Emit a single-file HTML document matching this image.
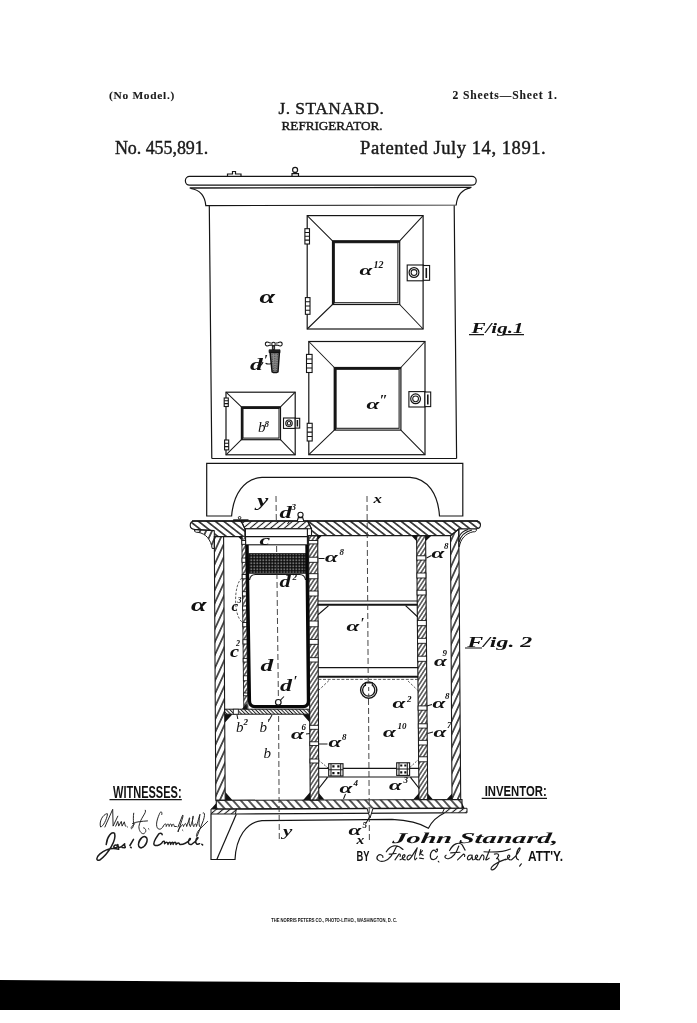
<!DOCTYPE html>
<html>
<head>
<meta charset="utf-8">
<title>J. Stanard Refrigerator Patent No. 455,891</title>
<style>
html,body{margin:0;padding:0;background:#fff;}
body{width:697px;height:1023px;overflow:hidden;position:relative;font-family:"Liberation Serif",serif;}
svg{position:absolute;left:0;top:0;display:block;will-change:transform;}
.ln{fill:none;stroke:#151515;stroke-width:1.2;}
.lt{fill:none;stroke:#1a1a1a;stroke-width:1.05;}
.lk{fill:none;stroke:#111;stroke-width:1.4;}
.bk{fill:#111;stroke:none;}
.wh{fill:#fff;stroke:#151515;stroke-width:1.1;}
.ds{fill:none;stroke:#333;stroke-width:0.9;stroke-dasharray:5 3;}
.hd{font-family:"Liberation Serif",serif;fill:#1a1a1a;}
.sn{font-family:"Liberation Sans",sans-serif;fill:#111;font-weight:bold;}
.lb{font-family:"Liberation Serif",serif;font-style:italic;font-weight:bold;fill:#111;}
.sg{font-family:"Liberation Serif",serif;font-style:italic;fill:#222;}
</style>
</head>
<body>
<svg width="697" height="1023" viewBox="0 0 697 1023">
<defs>
<pattern id="hS" width="5.2" height="8" patternUnits="userSpaceOnUse" patternTransform="rotate(-52)">
<line x1="2.6" y1="0" x2="2.6" y2="8" stroke="#151515" stroke-width="1.45"/></pattern>
<pattern id="hSr" width="4.4" height="8" patternUnits="userSpaceOnUse" patternTransform="rotate(50)">
<line x1="2.2" y1="0" x2="2.2" y2="8" stroke="#1a1a1a" stroke-width="1.1"/></pattern>
<pattern id="hB" width="5.8" height="8" patternUnits="userSpaceOnUse" patternTransform="rotate(-42)">
<line x1="2.9" y1="0" x2="2.9" y2="8" stroke="#1a1a1a" stroke-width="1.45"/></pattern>
<pattern id="hW" width="5.4" height="8" patternUnits="userSpaceOnUse" patternTransform="rotate(24.5)">
<line x1="2.7" y1="0" x2="2.7" y2="8" stroke="#1a1a1a" stroke-width="1.45"/></pattern>
<pattern id="hI" width="3.3" height="8" patternUnits="userSpaceOnUse" patternTransform="rotate(33)">
<line x1="1.65" y1="0" x2="1.65" y2="8" stroke="#1a1a1a" stroke-width="1.15"/></pattern>
<pattern id="hF" width="2.6" height="8" patternUnits="userSpaceOnUse" patternTransform="rotate(-45)">
<line x1="1.3" y1="0" x2="1.3" y2="8" stroke="#1a1a1a" stroke-width="1"/></pattern>
<pattern id="hG" width="1.5" height="1.5" patternUnits="userSpaceOnUse">
<path d="M0 0.45 H1.5 M0.45 0 V1.5" stroke="#0c0c0c" stroke-width="0.9"/></pattern>
</defs>

<!-- HEADER -->
<g id="header" stroke="#1a1a1a" stroke-width="0.42">
<text class="hd" x="109" y="98.6" font-size="11.4" font-weight="bold" stroke-width="0.1" textLength="65.3" lengthAdjust="spacing">(No Model.)</text>
<text class="hd" x="452.6" y="99.1" font-size="11.6" font-weight="bold" stroke-width="0.1" textLength="104.2" lengthAdjust="spacing">2 Sheets—Sheet 1.</text>
<text class="hd" x="278.4" y="113.8" font-size="17.4" textLength="105.4" lengthAdjust="spacing">J. STANARD.</text>
<text class="hd" x="281.6" y="129.9" font-size="13.2" textLength="100.9" lengthAdjust="spacing">REFRIGERATOR.</text>
<text class="hd" x="114.9" y="154.4" font-size="18" textLength="93.3" lengthAdjust="spacing">No. 455,891.</text>
<text class="hd" x="360.1" y="154.2" font-size="18.6" textLength="185.6" lengthAdjust="spacing">Patented July 14, 1891.</text>
</g>

<!-- FIG1 -->
<g id="fig1">
<!-- cornice -->
<rect class="ln" x="185.4" y="176.4" width="290.8" height="8.8" rx="4.2" ry="4.2" style="stroke-width:1.2"/>
<path class="ln" d="M189.7 188 L471.5 187.4" style="stroke-width:1.3"/>
<path class="ln" d="M190.8 188.5 C200 190 205 196 205.8 205.6 L456.2 205 C457 196 462 189 470.5 187.8" style="stroke-width:1.2"/>
<!-- top knob and latch -->
<circle class="ln" cx="295.1" cy="169.9" r="2.5"/>
<path class="ln" d="M292 176 V173.6 H298.5 V176"/>
<path class="ln" d="M227.5 176.3 V174 H232.5 V171.5 H235.5 V174 H241 V176.3"/>
<!-- body -->
<path class="ln" d="M209.3 206 L211.8 458.5 M454.2 205.5 L456.6 458.5"/>
<path class="ln" d="M211.8 458.5 H456.6"/>
<!-- base -->
<path class="ln" d="M206.7 463.3 H462.8 V516 H439.5 C438 494 428 478.5 410 477.3 H262 C244 478.5 233.5 494 231.6 516 H206.7 Z"/>
<!-- door a12 -->
<rect class="ln" x="307.2" y="215.6" width="115.9" height="113.4"/>
<rect class="ln" x="332.5" y="240.9" width="67.2" height="63.6"/>
<rect class="lt" x="334.3" y="242.7" width="63.6" height="60"/><path class="ln" d="M333.2 304.5 V241.6 H399.7" style="stroke-width:2.2"/>
<path class="lt" d="M307.2 215.6 L332.5 240.9 M423.1 215.6 L399.7 240.9 M307.2 329 L332.5 304.5 M423.1 329 L399.7 304.5"/>
<!-- hinges a12 -->
<g class="wh">
<rect x="304.9" y="228.7" width="4.6" height="15.3"/><path d="M304.9 232.5 h4.6 M304.9 236.3 h4.6 M304.9 240.1 h4.6"/>
<rect x="305.4" y="297.6" width="4.6" height="16.7"/><path d="M305.4 301.8 h4.6 M305.4 306 h4.6 M305.4 310.2 h4.6"/>
</g>
<!-- latch a12 -->
<rect class="wh" x="407.2" y="265" width="16" height="15.8"/>
<rect class="wh" x="423.2" y="265.5" width="6.4" height="14.8"/>
<path class="ln" d="M426.3 268 V278" style="stroke-width:1.6"/>
<circle class="ln" cx="414" cy="272.5" r="4.9"/><circle class="lt" cx="414" cy="272.5" r="2.9"/>
<!-- door a11 -->
<rect class="ln" x="308.8" y="341.5" width="116.2" height="113.2"/>
<rect class="ln" x="334.3" y="367.5" width="66.6" height="62.6"/>
<rect class="lt" x="336.1" y="369.3" width="63" height="59"/><path class="ln" d="M335 430.1 V368.2 H400.9" style="stroke-width:2.2"/>
<path class="lt" d="M308.8 341.5 L334.3 367.5 M425 341.5 L400.9 367.5 M308.8 454.7 L334.3 430.1 M425 454.7 L400.9 430.1"/>
<g class="wh">
<rect x="306.5" y="354.4" width="5.6" height="18.1"/><path d="M306.5 359 h5.6 M306.5 363.5 h5.6 M306.5 368 h5.6"/>
<rect x="307.2" y="423.3" width="5" height="17.7"/><path d="M307.2 427.7 h5 M307.2 432.1 h5 M307.2 436.5 h5"/>
</g>
<rect class="wh" x="408.9" y="391.6" width="16" height="15.4"/>
<rect class="wh" x="424.9" y="392" width="5.8" height="14.6"/>
<path class="ln" d="M427.8 394.5 V404.5" style="stroke-width:1.6"/>
<circle class="ln" cx="415.6" cy="398.8" r="4.9"/><circle class="lt" cx="415.6" cy="398.8" r="2.9"/>
<!-- small door b8 -->
<rect class="ln" x="226" y="392.2" width="69.2" height="62.6"/>
<rect class="ln" x="241.4" y="406.9" width="39.1" height="32.8"/>
<rect class="lt" x="243" y="408.5" width="36" height="29.6"/><path class="ln" d="M242 439.7 V407.5 H280.5" style="stroke-width:1.9"/>
<path class="lt" d="M226 392.2 L241.4 406.9 M295.2 392.2 L280.5 406.9 M226 454.8 L241.4 439.7 M295.2 454.8 L280.5 439.7"/>
<g class="wh">
<rect x="224.2" y="398" width="4.1" height="8.5"/><path d="M224.2 400.8 h4.1 M224.2 403.6 h4.1"/>
<rect x="224.6" y="440" width="4.1" height="9.9"/><path d="M224.6 443.3 h4.1 M224.6 446.6 h4.1"/>
</g>
<rect class="wh" x="283.5" y="418" width="11.7" height="10.4"/>
<rect class="wh" x="295.2" y="418.3" width="4.5" height="9.8"/>
<path class="ln" d="M297.4 420 V426.5" style="stroke-width:1.5"/>
<circle class="ln" cx="289" cy="423.2" r="3.2"/><circle class="lt" cx="289" cy="423.2" r="1.7"/>
<!-- faucet -->
<path class="wh" d="M265.3 344 C265.3 341.8 267.5 341.6 269.5 342.8 L272 343.2 C272.8 342 274.2 342 275 343.2 L278 342.8 C280 341.6 282.2 341.8 282.2 344 C282.2 346.2 280 346.4 278 345.2 L275 344.9 C274.2 346 272.8 346 272 344.9 L269.5 345.2 C267.5 346.4 265.3 346.2 265.3 344 Z" style="stroke-width:1.1"/>
<path d="M272.4 346 H274.6 V349.6 H272.4 Z" fill="#777" stroke="#111" stroke-width="0.9"/>
<path d="M269.1 349.8 H280 V352.6 H269.1 Z" fill="#222" stroke="#111" stroke-width="0.8"/>
<path d="M270.1 352.6 H279.4 L278 371.8 Q275 373.4 272.1 371.8 Z" fill="#8a8a8a" stroke="#111" stroke-width="1.5"/>
<path d="M272 354 L273.5 371 M274.8 353.5 L275 371.5 M277.4 354 L276.6 371" stroke="#333" stroke-width="0.8" stroke-dasharray="1.2 1.1" fill="none"/>
<path class="lt" d="M265.6 363.2 C267.5 364.4 269.5 364.2 271.2 363.4"/>
</g>
<!-- FIG2 -->
<g id="fig2">
<!-- top slab -->
<path d="M190.2 525.2 Q190.2 521 194.5 521 H241.2 L244.9 528.8 V536.6 H214.3 V530.6 L194.5 529.4 Q190.2 529 190.2 525.2 Z" fill="url(#hS)" stroke="none"/><path class="ln" d="M214.3 530.6 L194.5 529.4 Q190.2 529 190.2 525.2 Q190.2 521 194.5 521 H241.2 L244.9 528.8 V536.6 H223.6" style="stroke-width:1.1"/>
<path d="M241.2 521 H307.6 L311.5 528.8 H244.9 Z" fill="url(#hSr)" stroke="#1a1a1a" stroke-width="1.1"/>
<path d="M307.6 521 H476 Q480.5 521 480.5 524.7 Q480.5 528.6 476 528.8 L458.8 529 L450.6 535.6 H311.5 V528.8 Z" fill="url(#hS)" stroke="#1a1a1a" stroke-width="1.1"/>
<path class="ln" d="M192 521 H478" style="stroke-width:1.3"/>
<!-- coves -->
<path d="M194.5 529.6 C194 532 196 532.5 198 532.3 C206 533.5 211 540 212.2 548.5 H214.3 V530.6 Z" fill="url(#hW)" stroke="#1a1a1a" stroke-width="1"/>
<path d="M476.3 529 C477 531.5 475 532 473 531.8 C465.5 533.5 460.5 539 459.3 546.8 H458.8 V529 Z" fill="#fff" stroke="#1a1a1a" stroke-width="1"/>
<path class="lt" d="M472 530 C464 532 460.5 536 459.2 542 M468 529.5 C463 531 460.5 533 459 537"/>
<!-- outer walls -->
<path d="M214.3 536.6 H223.6 L225.2 800.3 H215.8 Z" fill="url(#hW)" stroke="#1a1a1a" stroke-width="1.1"/>
<path d="M450.5 535.6 L458.8 529 L460.7 799.5 H452 Z" fill="url(#hW)" stroke="#1a1a1a" stroke-width="1.1"/>
<!-- box c under lid -->
<rect class="wh" x="245.4" y="528.8" width="62" height="16"/>
<path class="ln" d="M245.4 536.7 H307.4"/>
<!-- thin wall ice chamber -->
<path d="M241.8 536.6 H245.6 L247.9 709 H243.8 Z" fill="url(#hI)" stroke="#1a1a1a" stroke-width="0.9"/>
<circle class="wh" cx="243.5" cy="537.8" r="1.3" style="stroke-width:0.8"/>
<!-- divider wall -->
<path d="M308.6 535.6 H317.7 L318.8 800.3 H310.2 Z" fill="url(#hI)" stroke="#1a1a1a" stroke-width="1.1"/>
<!-- inner right wall -->
<path d="M416.6 535.6 H425.6 L427.7 799.5 H419 Z" fill="url(#hI)" stroke="#1a1a1a" stroke-width="1.1"/>
<!-- GAPS -->
<g id="gaps" class="wh" style="stroke-width:0.9">
<rect x="241.8" y="540.5" width="3.8" height="3.8"/><rect x="242.0" y="558.0" width="3.8" height="4.3"/><rect x="242.2" y="574.5" width="3.9" height="4.3"/><rect x="242.4" y="591.7" width="3.9" height="4.3"/><rect x="242.6" y="606.0" width="3.9" height="4.0"/><rect x="242.8" y="622.5" width="3.9" height="4.3"/><rect x="243.0" y="639.7" width="4.0" height="4.3"/><rect x="243.2" y="658.4" width="4.0" height="3.6"/><rect x="243.4" y="675.8" width="4.0" height="5.0"/><rect x="243.6" y="693.0" width="4.1" height="2.8"/><rect x="308.6" y="540.5" width="9.1" height="3.4"/><rect x="308.7" y="557.2" width="9.1" height="5.1"/><rect x="308.8" y="573.7" width="9.0" height="5.1"/><rect x="308.9" y="591.0" width="9.0" height="5.0"/><rect x="309.1" y="621.0" width="8.9" height="5.8"/><rect x="309.2" y="639.4" width="8.9" height="4.9"/><rect x="309.3" y="657.7" width="8.9" height="4.3"/><rect x="309.7" y="725.3" width="8.7" height="4.0"/><rect x="309.8" y="741.8" width="8.7" height="3.8"/><rect x="310.0" y="759.0" width="8.7" height="4.0"/><rect x="416.8" y="555.8" width="9.0" height="4.3"/><rect x="416.9" y="573.0" width="9.0" height="5.0"/><rect x="417.1" y="590.2" width="8.9" height="4.8"/><rect x="417.4" y="620.4" width="8.9" height="5.3"/><rect x="417.5" y="638.3" width="8.9" height="5.0"/><rect x="417.7" y="656.2" width="8.9" height="5.1"/><rect x="418.1" y="705.9" width="8.8" height="4.3"/><rect x="418.3" y="723.8" width="8.8" height="4.3"/><rect x="418.5" y="740.3" width="8.8" height="4.7"/><rect x="418.6" y="756.8" width="8.7" height="5.0"/>
</g>
<!-- grid d2 -->
<rect x="248.9" y="553.7" width="57" height="19.5" fill="url(#hG)" stroke="#111" stroke-width="1"/>
<path class="ln" d="M249.5 580 C250 576.5 252 574.6 255.5 574.5 H299.5 C303 574.6 305 576.5 305.6 580"/>
<!-- tank d -->
<path d="M247.1 545 L249.5 701 Q249.6 706.7 255 706.7 H303 Q308.4 706.7 308.4 701 L306.9 545" fill="none" stroke="#080808" stroke-width="3.2"/>
<circle class="wh" cx="278.3" cy="702.3" r="2.8" style="stroke-width:1.2"/>
<path class="lt" d="M280.5 700.2 L284 696.5"/>
<!-- ice chamber floor -->
<rect x="224.6" y="709.2" width="84.6" height="5" fill="url(#hF)" stroke="#1a1a1a" stroke-width="1"/>
<rect class="wh" x="233.3" y="709.2" width="5" height="5" style="stroke-width:0.8"/>
<path class="bk" d="M246.8 703 L242 709 H247 Z"/>
<!-- fillets -->
<path class="bk" d="M225 714.2 H232.5 L225 722.5 Z M309.8 714.2 H302.5 L309.8 722.5 Z M225.3 800.3 H232.5 L225.3 792 Z M310.2 800.3 H303 L310.2 792 Z M318.8 799.8 H324.5 L318.8 793 Z M419 799.5 H413.2 L419 793 Z M427.7 799.5 H433 L427.7 793.5 Z M452 799.5 H446.5 L452 793.5 Z M416.6 535.6 H411.3 L416.6 541.2 Z M425.6 535.6 H431.6 L425.6 541.2 Z M317.7 535.6 H322 L317.7 540 Z M241.8 536.6 H238 L241.8 540.5 Z"/>
<!-- shelves -->
<path class="ln" d="M317.9 601 H417.5" style="stroke-width:1"/>
<path class="ln" d="M317.9 604.8 H417.6" style="stroke-width:1.9"/>
<path class="ln" d="M318 614.8 L328.6 605.6 M417.8 617 L405.6 605.6"/>
<path class="ln" d="M318.3 667.6 H418.2"/>
<path class="ln" d="M318.3 676.8 H418.3" style="stroke-width:2"/>
<path class="ds" d="M318.4 679.4 H418.3" style="stroke-dasharray:3 1.6;stroke-width:0.8"/>
<path class="ds" d="M318.4 690.5 L329.5 680 M418.4 691 L407 680" style="stroke-dasharray:2.4 1.6;stroke-width:0.8"/>
<!-- ring handle -->
<circle class="wh" cx="368.7" cy="690.1" r="8.1" style="stroke-width:1.4"/>
<circle class="wh" cx="368.7" cy="690.1" r="6.1" style="stroke-width:1.3"/>
<path class="wh" d="M365.5 686 V682.9 H372.3 V686" style="stroke-width:1.1"/>
<path class="ds" d="M368.7 687 V696" style="stroke-dasharray:4 2.5"/>
<!-- lower shelf + hinges -->
<path class="ln" d="M318.7 768.3 H419 M318.7 777 H419 M318.8 788.5 L327.5 777.3 M419.2 788.5 L410.5 777.3"/>
<path class="ds" d="M318.7 760.3 L328.7 768.5 M419 759 L409.8 767.5" style="stroke-dasharray:2 1.4;stroke-width:0.8"/>
<g class="wh" style="stroke-width:1.1">
<rect x="328.7" y="763.7" width="14.3" height="12.3"/><rect x="396.7" y="762.8" width="12.9" height="12.6"/>
</g>
<path class="lt" d="M328.7 769.8 H343 M331 763.7 V776 M340.7 763.7 V776 M396.7 769 H409.6 M399 762.8 V775.4 M407.3 762.8 V775.4"/>
<path class="bk" d="M332.3 765.3 h2.2 v2.2 h-2.2 Z M337.3 765.3 h2.2 v2.2 h-2.2 Z M332.3 772 h2.2 v2.2 h-2.2 Z M337.3 772 h2.2 v2.2 h-2.2 Z M400.2 764.5 h2.1 v2.1 h-2.1 Z M404.3 764.5 h2.1 v2.1 h-2.1 Z M400.2 771.3 h2.1 v2.1 h-2.1 Z M404.3 771.3 h2.1 v2.1 h-2.1 Z"/>
<!-- bottom slab -->
<path d="M216.3 800.3 L462 799.5 V808 L216.3 809 Z" fill="url(#hB)" stroke="#1a1a1a" stroke-width="1.1"/>
<path class="bk" d="M216.3 803 L211 809 H216.3 Z M462 803 L464.5 808 H462 Z"/>
<!-- sub slab -->
<path d="M211 809 H236.4 L235.4 814 H211 Z" fill="url(#hSr)" stroke="#1a1a1a" stroke-width="1"/>
<path d="M444.5 808.3 H467 V812.8 H442.4 Z" fill="url(#hSr)" stroke="#1a1a1a" stroke-width="1"/>
<path class="ln" d="M236 809 L444.5 808.3 M235.4 814 L442.4 812.8"/>
<!-- leg + arch -->
<path class="ln" d="M211 814 V859.5 H235 C236 838 246 822 262 820.6 L392 819.3 C408 820 420 823 428.4 828.2 C432 821 438 816 444.4 813"/>
<path class="ln" d="M236.3 814.2 L216.8 859.5"/>
<!-- drain a5 -->
<path class="wh" d="M367 808.3 L370 818 L373 808.3" style="stroke-width:1"/>
<path class="lt" d="M369.5 817 L365.5 824"/>
<!-- dashed center lines -->
<path class="ds" d="M276 496 L276.3 520 M276.6 546 L278.4 699" style="stroke-dasharray:6 3"/>
<path class="ds" d="M278.6 716 L279.3 840" style="stroke-dasharray:6 3"/>
<path class="ds" d="M367 496 L368.2 681 M368.5 699 L369.4 840.6" style="stroke-dasharray:6 3"/>
<!-- lid knob and latch -->
<circle class="wh" cx="300.5" cy="514.8" r="2.6"/>
<path class="wh" d="M297.3 521 L298.3 517.6 H302.7 L303.7 521"/>
<path class="ln" d="M233.2 520.2 H248.5" style="stroke-width:1.8"/>
<circle class="wh" cx="239.6" cy="517.8" r="1.3" style="stroke-width:0.9"/>
</g>
<g id="labels">
<text class="lb" transform="translate(359.5 274.6) scale(1.50 1)" font-size="15.5">α</text>
<text class="lb" x="373.5" y="267.5" font-size="10" >12</text>
<text class="lb" transform="translate(259.5 302.8) scale(1.55 1)" font-size="18">α</text>
<text class="lb" transform="translate(250.0 369.7) scale(1.50 1)" font-size="17">d</text>
<text class="lb" x="264.0" y="365.0" font-size="14" >′</text>
<text class="lb" transform="translate(258.0 432.3) scale(1.00 1)" font-size="15" style="font-weight:normal">b</text>
<text class="lb" x="264.5" y="426.5" font-size="9" >8</text>
<text class="lb" transform="translate(366.5 408.8) scale(1.50 1)" font-size="15.5">α</text>
<text class="lb" x="379.5" y="405.0" font-size="15" >″</text>
<text class="lb" transform="translate(257.0 505.5) scale(1.50 1)" font-size="17">y</text>
<text class="lb" transform="translate(373.5 503.3) scale(1.30 1)" font-size="13">x</text>
<text class="lb" transform="translate(279.5 518.0) scale(1.45 1)" font-size="17">d</text>
<text class="lb" x="291.5" y="509.5" font-size="9" >3</text>
<text class="lb" x="471.5" y="333.4" font-size="14" textLength="52" lengthAdjust="spacingAndGlyphs">F/ig.1</text>
<path class="lt" d="M469 334.6 H484 M503 334.6 H524"/>
<text class="lb" x="467.3" y="646.7" font-size="14.5" textLength="65" lengthAdjust="spacingAndGlyphs">F/ig. 2</text>
<path class="lt" d="M465 648 H482"/>
<text class="lb" transform="translate(325.0 561.8) scale(1.50 1)" font-size="15.5">α</text>
<text class="lb" x="339.5" y="555.0" font-size="9" >8</text>
<text class="lb" transform="translate(431.5 558.2) scale(1.50 1)" font-size="15.5">α</text>
<text class="lb" x="444.0" y="549.0" font-size="9" >8</text>
<text class="lb" transform="translate(191.0 610.7) scale(1.55 1)" font-size="18">α</text>
<text class="lb" transform="translate(259.5 544.6) scale(1.60 1)" font-size="15">c</text>
<text class="lb" transform="translate(279.5 586.8) scale(1.40 1)" font-size="16">d</text>
<text class="lb" x="292.5" y="580.0" font-size="9" >2</text>
<text class="lb" transform="translate(231.5 611.0) scale(1.00 1)" font-size="15">c</text>
<text class="lb" x="237.5" y="603.0" font-size="8" >3</text>
<text class="lb" transform="translate(230.0 657.0) scale(1.20 1)" font-size="17">c</text>
<text class="lb" x="236.0" y="646.0" font-size="8" >2</text>
<text class="lb" transform="translate(260.5 671.2) scale(1.50 1)" font-size="17">d</text>
<text class="lb" transform="translate(280.0 690.5) scale(1.50 1)" font-size="16">d</text>
<text class="lb" x="293.5" y="686.0" font-size="14" >′</text>
<text class="lb" transform="translate(346.5 631.3) scale(1.50 1)" font-size="15.5">α</text>
<text class="lb" x="360.5" y="628.0" font-size="14" >′</text>
<text class="lb" transform="translate(434.0 665.8) scale(1.50 1)" font-size="15.5">α</text>
<text class="lb" x="442.5" y="655.5" font-size="9" >9</text>
<text class="lb" transform="translate(392.5 708.2) scale(1.50 1)" font-size="15.5">α</text>
<text class="lb" x="407.0" y="701.5" font-size="9" >2</text>
<text class="lb" transform="translate(432.5 708.0) scale(1.50 1)" font-size="15.5">α</text>
<text class="lb" x="445.0" y="699.0" font-size="9" >8</text>
<text class="lb" transform="translate(383.0 737.3) scale(1.50 1)" font-size="15.5">α</text>
<text class="lb" x="397.5" y="729.0" font-size="9" >10</text>
<text class="lb" transform="translate(433.5 736.7) scale(1.50 1)" font-size="15.5">α</text>
<text class="lb" x="447.0" y="727.5" font-size="9" >7</text>
<text class="lb" transform="translate(291.0 739.0) scale(1.50 1)" font-size="15.5">α</text>
<text class="lb" x="301.5" y="730.0" font-size="9" >6</text>
<text class="lb" transform="translate(328.5 747.3) scale(1.50 1)" font-size="15.5">α</text>
<text class="lb" x="342.0" y="740.0" font-size="9" >8</text>
<text class="lb" transform="translate(339.5 793.3) scale(1.50 1)" font-size="15.5">α</text>
<text class="lb" x="353.5" y="786.0" font-size="9" >4</text>
<text class="lb" transform="translate(389.0 789.8) scale(1.50 1)" font-size="15.5">α</text>
<text class="lb" x="403.5" y="783.0" font-size="9" >3</text>
<text class="lb" transform="translate(348.5 834.9) scale(1.50 1)" font-size="15.5">α</text>
<text class="lb" x="362.5" y="827.5" font-size="9" >5</text>
<text class="lb" transform="translate(356.5 843.8) scale(1.30 1)" font-size="12">x</text>
<text class="lb" transform="translate(283.0 836.0) scale(1.40 1)" font-size="15">y</text>
<text class="lb" transform="translate(236.0 732.4) scale(1.00 1)" font-size="15" style="font-weight:normal">b</text>
<text class="lb" x="243.5" y="725.0" font-size="9" >2</text>
<text class="lb" transform="translate(259.5 732.4) scale(1.00 1)" font-size="15" style="font-weight:normal">b</text>
<text class="lb" x="267.0" y="727.0" font-size="13" >′</text>
<text class="lb" transform="translate(263.5 757.5) scale(1.00 1)" font-size="15" style="font-weight:normal">b</text>
<path class="lt" d="M318.5 558.5 H324.5 M426.5 558 L431.5 555.5 M306 734 L310 733.5 M319 744 H327.5 M426.8 706 L432 704.5 M427.5 733.5 L433 732 M257.5 365.5 C260 366.5 262 365 263 362 M290 520.5 L287.5 524 M272 715 L269.5 719.5 M237 715 L237.8 719 M345.5 794 L343.5 799"/>
<path class="ds" d="M241.8 578 C233.5 585 233.5 615 241.8 621.8" style="stroke-dasharray:2.5 1.5;stroke-width:0.8"/>
</g>
<g id="sigs">
<text class="sn" x="113" y="797.6" font-size="15.6" textLength="68.6" lengthAdjust="spacingAndGlyphs">WITNESSES:</text>
<path class="ln" d="M109.5 799.6 H181.8" style="stroke-width:1.3"/>
<text class="sn" x="484.7" y="796.4" font-size="15" textLength="62" lengthAdjust="spacingAndGlyphs">INVENTOR:</text>
<path class="ln" d="M481.7 798.3 H547" style="stroke-width:1.3"/>
<text class="sn" x="356.5" y="860.8" font-size="14" textLength="13" lengthAdjust="spacingAndGlyphs">BY</text>
<text class="sn" x="528" y="860.8" font-size="14.2" textLength="35" lengthAdjust="spacingAndGlyphs">ATT'Y.</text>
<text class="lb" transform="translate(392 842.5) skewX(-8)" font-size="15" textLength="166" lengthAdjust="spacingAndGlyphs">John Stanard,</text>
<g id="cursive" fill="none" stroke="#1c1c1c" stroke-linecap="round" stroke-linejoin="round">
<path stroke-width="0.95" d="M107.1 813.6 C102.3 814.5 98.9 822.2 100.6 827.0 C103.2 826.5 106.6 819.6 107.5 814.5 M104.9 827.0 L112.7 809.3 L113.1 826.1 L117.8 816.2 M115.7 826.1 L117.8 821.4 L118.7 826.1 L121.3 821.4 L122.1 826.1 L124.3 821.8 L125.4 826.1 M126.9 826.5 L127.5 827.0 M133.7 813.2 C132.5 820.5 135.0 826.5 131.6 828.7 C129.9 828.2 132.5 825.7 135.0 823.5 M145.4 810.2 C147.1 812.7 140.2 817.9 138.9 826.5 C138.9 830.8 141.1 833.4 143.2 833.8 C147.1 832.5 146.2 828.2 143.6 827.8 M132.5 823.5 C136.8 821.4 141.9 821.4 147.5 820.9 M148.4 828.7 L149.0 829.3"/>
<path stroke-width="0.95" d="M161.8 814.5 C162.6 811.0 160.1 811.0 159.2 814.5 C156.6 820.5 155.3 826.5 158.3 828.9 C160.9 830.0 162.6 827.6 163.3 826.1 M163.3 826.1 C164.4 823.5 166.5 822.6 166.2 826.5 C167.4 823.5 168.7 822.6 169.1 826.5 C170.0 823.5 171.2 822.6 171.7 826.5 C172.5 823.5 173.8 823.1 174.3 826.5 L176.4 826.5 M178.0 827.0 L182.6 815.2 C183.5 814.3 182.8 817.9 181.7 820.7 L178.1 831.9 C177.7 830.8 178.6 829.1 180.7 826.5 M180.7 826.5 C182.0 824.4 182.9 823.5 183.5 826.5 C184.6 823.5 185.9 821.8 186.7 826.5 C187.6 822.2 191.0 817.1 189.3 817.9 C188.5 821.4 189.3 825.7 190.4 826.7 C191.9 822.2 194.5 815.3 192.9 816.2 C191.9 820.5 192.8 825.7 193.8 826.7 C194.5 823.5 196.6 822.6 196.4 826.5 C197.5 823.5 199.6 814.5 200.0 814.3 C198.8 820.5 198.8 825.2 199.6 826.5 M203.1 812.9 C205.0 811.9 205.0 815.3 203.3 820.5 L197.2 836.0 C195.8 837.9 196.2 833.6 198.8 830.1 L207.6 821.4 M182.4 830.0 L182.9 830.5"/>
<path stroke-width="1.5" d="M106.2 844.6 C107.1 836.0 111.8 831.3 114.6 833.4 C116.5 839.4 109.2 853.2 99.7 860.1 C95.9 861.4 95.9 857.5 99.7 854.1 C104.9 849.8 111.8 847.2 118.7 849.3 M117.1 845.3 C113.5 844.4 112.5 848.0 115.9 847.7 C117.8 847.2 118.3 845.1 117.8 844.6 L118.5 847.7 C121.3 847.4 123.7 844.8 124.7 843.7 C123.7 846.3 126.6 847.2 124.7 847.8 L122.1 847.6 M133.5 839.3 L129.9 845.5 M130.6 847.2 L131.2 847.7"/>
<path stroke-width="1.5" d="M162.2 834.7 C161.8 832.5 159.2 833.0 158.2 834.7 C154.9 839.4 152.7 842.9 154.2 844.8 C156.6 846.5 160.1 844.8 161.9 842.9 M161.9 842.9 C163.1 840.7 165.2 840.7 164.5 843.7 C166.5 842.0 167.4 841.6 168.0 844.4 C168.7 841.6 170.8 841.6 170.6 844.4 C171.7 841.6 173.4 841.6 173.1 844.4 C173.8 841.6 176.4 841.6 176.0 844.4 C177.7 842.9 179.0 842.0 179.8 844.4 C184.2 844.6 188.5 841.2 190.2 839.4 C191.0 837.7 189.3 838.1 188.5 841.2 C188.0 843.7 189.3 845.0 191.9 844.2 C194.5 842.9 197.1 839.4 197.9 838.1 C198.4 836.8 196.6 837.3 195.8 840.7 C195.3 843.7 197.1 845.0 199.6 843.7 M201.8 844.2 L202.6 844.9"/>
<ellipse cx="142.8" cy="842.2" rx="3.6" ry="6" transform="rotate(28 142.8 842.2)" stroke-width="1.7"/>
</g>
<g id="cursive2" fill="none" stroke="#1c1c1c" stroke-width="1.15" stroke-linecap="round" stroke-linejoin="round">
<path d="M386.3 851.8 C390.4 844.9 397.3 843.7 403.0 849.5 M396.7 846.0 C393.8 852.9 389.2 859.8 384.6 861.0 C378.9 862.7 375.4 858.7 377.7 855.8 C380.0 853.5 383.5 855.2 382.9 857.5 M389.2 854.1 L396.1 853.5 M395.0 859.8 L399.0 854.1 C400.1 853.5 400.7 855.2 400.1 856.4 M400.1 859.8 C404.1 858.7 406.4 855.2 404.1 854.6 C401.8 855.2 401.3 859.8 405.3 859.8 M411.0 855.2 C407.6 854.1 405.3 859.8 408.7 859.8 C411.0 859.2 415.6 849.5 417.3 847.8 C415.6 852.9 413.3 858.7 415.0 859.8 L416.8 858.1 M420.8 849.5 L419.6 855.2 M422.5 850.6 L420.2 853.5 L423.1 855.2 M419.6 858.1 L423.6 858.7 M436.3 849.5 C438.6 847.2 437.4 852.9 435.7 851.8 C434.0 847.2 429.4 852.9 430.5 857.5 C431.7 861.0 436.3 859.8 437.4 856.4 M438.3 861.3 L438.9 862.0"/>
<path d="M449.6 850.6 C453.0 843.7 458.8 841.4 462.2 844.9 L465.1 850.1 M458.8 846.0 C456.5 852.9 453.0 857.5 448.4 858.7 C445.0 859.2 443.9 856.4 446.1 855.2 M450.7 852.9 L459.9 852.3 M457.6 859.8 L463.4 854.1 C464.5 854.1 465.1 855.2 464.5 856.4 M471.4 855.2 C468.0 854.1 465.7 859.8 469.1 859.8 C471.4 859.2 472.5 855.8 472.0 855.2 L472.5 859.8 M473.7 859.8 C477.1 858.7 478.9 855.2 476.6 855.0 C474.8 855.8 474.6 859.8 478.3 859.8 M479.4 859.8 L481.7 855.2 C483.5 854.1 484.6 856.4 483.5 859.8 M489.8 849.5 L485.7 859.8 C486.9 860.4 488.0 859.2 489.2 858.1 M484.0 851.8 C493.2 852.3 504.7 851.8 510.4 848.9 M494.4 854.1 C498.9 852.9 500.1 855.2 496.6 858.7 C498.9 858.1 500.1 861.0 497.8 864.4 C494.4 871.3 488.6 871.3 492.1 866.7 C495.5 862.7 502.4 860.4 505.8 859.2 M505.8 859.8 C509.3 858.7 511.0 855.2 508.7 855.0 C507.0 855.8 506.8 859.8 510.4 859.8 M511.6 859.8 C516.2 856.4 521.9 848.3 519.6 847.8 C517.3 849.5 513.9 858.7 518.5 859.8 M521.3 863.8 L519.6 866.1"/>
</g>
</g>
<!-- FOOTER -->
<g id="footer">
<polygon points="0,980 200,981.5 400,982.5 620,983 620,1010 0,1010" style="fill:#000"/>
<text class="sn" x="271.2" y="921.9" font-size="4.8" textLength="126" lengthAdjust="spacingAndGlyphs">THE NORRIS PETERS CO., PHOTO-LITHO., WASHINGTON, D. C.</text>
</g>
</svg>
</body>
</html>
